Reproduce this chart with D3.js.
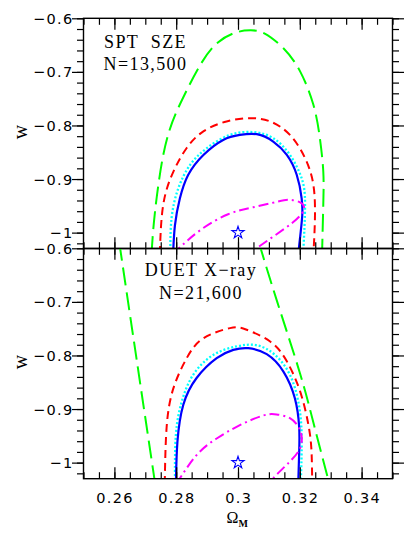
<!DOCTYPE html>
<html><head><meta charset="utf-8">
<script src="https://cdn.jsdelivr.net/npm/d3@7"></script>
<style>body{margin:0;background:#fff}svg{display:block}</style>
</head><body><svg id="c" width="415" height="540"></svg>
<script>
// ---------- data ----------
const xDomain = [0.25, 0.35];
const yDomain = [-1.03, -0.6];
const xMajorTicks = [0.26, 0.28, 0.30, 0.32, 0.34];
const xTickLabels = ["0.26", "0.28", "0.3", "0.32", "0.34"];
const yMajorTicks = [-0.6, -0.7, -0.8, -0.9, -1.0];
const yTickLabels = ["\u22120.6", "\u22120.7", "\u22120.8", "\u22120.9", "\u22121"];
const fiducial = [0.30, -1.0];

const sptTitle = ["SPT  SZE", "N=13,500"];
const duetTitle = ["DUET X\u2212ray", "N=21,600"];

const sptGreen = [[0.2720,-1.04],[0.2728,-0.98],[0.2745,-0.90],[0.2775,-0.815],[0.2825,-0.745],[0.2880,-0.685],[0.2935,-0.645],[0.2996,-0.626],[0.3040,-0.6225],[0.3085,-0.628],[0.3147,-0.656],[0.3201,-0.699],[0.3244,-0.7615],[0.3265,-0.824],[0.3276,-0.886],[0.3276,-0.948],[0.3272,-1.04]];
const sptRed = [[0.2747,-1.04],[0.2758,-0.948],[0.2791,-0.886],[0.2834,-0.842],[0.2888,-0.811],[0.2963,-0.7925],[0.3039,-0.7864],[0.3104,-0.7925],[0.3168,-0.8176],[0.3217,-0.861],[0.3244,-0.911],[0.3249,-0.973],[0.3244,-1.04]];
const sptCyan = [[0.2781,-1.04],[0.2785,-0.973],[0.2807,-0.917],[0.2845,-0.8736],[0.2899,-0.8424],[0.2974,-0.8176],[0.3050,-0.8125],[0.3114,-0.8237],[0.3168,-0.855],[0.3206,-0.8985],[0.3217,-0.948],[0.3211,-1.04]];
const sptBlue = [[0.2790,-1.04],[0.2796,-0.986],[0.2812,-0.936],[0.2839,-0.892],[0.2888,-0.855],[0.2952,-0.827],[0.3006,-0.8176],[0.3061,-0.8163],[0.3114,-0.830],[0.3158,-0.855],[0.3190,-0.892],[0.3206,-0.936],[0.3208,-0.967],[0.3203,-0.998],[0.3195,-1.04]];
const sptMagenta = [[0.2788,-1.039],[0.2807,-1.03],[0.2877,-0.9957],[0.2968,-0.9658],[0.3049,-0.9527],[0.3126,-0.9424],[0.3165,-0.9387],[0.3201,-0.9434],[0.3214,-0.9527],[0.3207,-0.9639],[0.3178,-0.9807],[0.3120,-1.005],[0.3058,-1.03],[0.3039,-1.039]];

const duetGreenLeft = [[0.2616,-0.59],[0.2670,-0.80],[0.2732,-1.04]];
const duetGreenRight = [[0.3068,-0.59],[0.3127,-0.70],[0.3201,-0.834],[0.3246,-0.93],[0.3296,-1.04]];
const duetRed = [[0.2763,-1.04],[0.2769,-0.934],[0.2791,-0.861],[0.2834,-0.805],[0.2888,-0.768],[0.2974,-0.749],[0.3028,-0.752],[0.3104,-0.774],[0.3158,-0.811],[0.3201,-0.867],[0.3228,-0.930],[0.3238,-0.980],[0.3240,-1.04]];
const duetCyan = [[0.2796,-1.04],[0.2799,-0.948],[0.2818,-0.886],[0.2855,-0.836],[0.2920,-0.799],[0.2996,-0.783],[0.3061,-0.781],[0.3120,-0.799],[0.3168,-0.836],[0.3195,-0.886],[0.3206,-0.948],[0.3203,-1.04]];
const duetBlue = [[0.2799,-1.04],[0.2804,-0.961],[0.2823,-0.892],[0.2866,-0.842],[0.2931,-0.805],[0.2985,-0.7895],[0.3033,-0.7864],[0.3093,-0.7976],[0.3147,-0.830],[0.3184,-0.880],[0.3198,-0.934],[0.3198,-0.980],[0.3195,-1.04]];
const duetMagenta = [[0.2800,-1.04],[0.2866,-0.986],[0.2931,-0.955],[0.3006,-0.930],[0.3082,-0.912],[0.3125,-0.910],[0.3168,-0.917],[0.3195,-0.933],[0.3206,-0.951],[0.3201,-0.973],[0.3168,-0.998],[0.3114,-1.029],[0.3105,-1.04]];

// ---------- layout ----------
const L = 83.5, R = 392.5;
const panelTops = [18.3, 248.3];
const PH = 230.4;
const styles = {
  green:   {stroke:"#00ff00", width:2,   dash:"18,7"},
  red:     {stroke:"#ff0000", width:2,   dash:"8,5"},
  cyan:    {stroke:"#00ffff", width:2.3, dash:"2,2"},
  blue:    {stroke:"#0000ff", width:2.2, dash:null},
  magenta: {stroke:"#ff00ff", width:2,   dash:"10,4,2,4"}
};
const panels = [
  {title: sptTitle, tx: 145.5, ty: [48.3, 69.5],
   curves: [["green",sptGreen],["red",sptRed],["cyan",sptCyan],["blue",sptBlue],["magenta",sptMagenta]]},
  {title: duetTitle, tx: 201, ty: [276.3, 299],
   curves: [["green",duetGreenLeft],["green",duetGreenRight],["red",duetRed],["cyan",duetCyan],["blue",duetBlue],["magenta",duetMagenta]]}
];

const svg = d3.select("#c");
svg.append("rect").attr("width",415).attr("height",540).attr("fill","#fff");
const x = d3.scaleLinear().domain(xDomain).range([L, R]);
const xMinor = x.ticks(20);

panels.forEach((p, i) => {
  const top = panelTops[i];
  const y = d3.scaleLinear().domain(yDomain).range([top + PH, top]);
  const yMinor = y.ticks(20);
  const g = svg.append("g");
  const cid = "clip" + i;
  svg.append("defs").append("clipPath").attr("id", cid)
    .append("rect").attr("x", L).attr("y", top).attr("width", R - L).attr("height", PH);

  const line = d3.line().x(d => x(d[0])).y(d => y(d[1])).curve(d3.curveNatural);
  const cg = g.append("g").attr("clip-path", `url(#${cid})`);
  p.curves.forEach(([k, data]) => {
    const s = styles[k];
    cg.append("path").attr("d", line(data)).attr("fill","none")
      .attr("stroke", s.stroke).attr("stroke-width", s.width)
      .attr("stroke-dasharray", s.dash).attr("stroke-linejoin","round");
  });
  // fiducial star
  g.append("path").attr("d", d3.symbol(d3.symbolStar, 46)())
    .attr("transform", `translate(${x(fiducial[0])},${y(fiducial[1])})`)
    .attr("fill","none").attr("stroke","#0000ff").attr("stroke-width",1.1);

  // axes (ticks inward)
  const axes = [
    [d3.axisTop(x), `translate(0,${top})`, xMinor, xMajorTicks],
    [d3.axisBottom(x), `translate(0,${top+PH})`, xMinor, xMajorTicks],
    [d3.axisRight(y), `translate(${L},0)`, yMinor, yMajorTicks],
    [d3.axisLeft(y), `translate(${R},0)`, yMinor, yMajorTicks]
  ];
  axes.forEach(([ax, tr, minor, major]) => {
    g.append("g").attr("transform", tr)
      .call(ax.tickValues(minor).tickSize(-6.5).tickFormat("").tickSizeOuter(0))
      .call(s => s.select(".domain").remove());
    g.append("g").attr("transform", tr)
      .call(ax.tickValues(major).tickSize(-11.5).tickFormat("").tickSizeOuter(0))
      .call(s => s.select(".domain").remove());
  });
  g.selectAll(".tick line").attr("stroke","#000").attr("stroke-width",1.2);

  // frame
  g.append("rect").attr("x", L).attr("y", top).attr("width", R - L).attr("height", PH)
    .attr("fill","none").attr("stroke","#000").attr("stroke-width",1.4);

  // y tick labels
  g.selectAll(".ylab").data(yMajorTicks).enter().append("text")
    .attr("x", 73.5).attr("y", d => y(d) + 5.5)
    .attr("text-anchor","end")
    .style("font-family","DejaVu Sans").style("font-size","14.5px").style("letter-spacing","1.3px")
    .text((d, j) => yTickLabels[j]);

  // y label
  g.append("text").attr("transform", `translate(26.5,${top + PH/2 - 1.5}) rotate(-90)`)
    .attr("text-anchor","middle")
    .style("font-family","Liberation Serif").style("font-size","20px")
    .text("w");

  // title
  p.title.forEach((t, j) => {
    g.append("text").attr("x", p.tx).attr("y", p.ty[j]).attr("text-anchor","middle")
      .style("font-family","Liberation Serif").style("font-size","18px").style("letter-spacing","1.4px")
      .style("white-space","pre")
      .text(t);
  });
});

// x tick labels
svg.selectAll(".xlab").data(xMajorTicks).enter().append("text")
  .attr("x", d => x(d) + 0.7).attr("y", 503)
  .attr("text-anchor","middle")
  .style("font-family","DejaVu Sans").style("font-size","14.5px").style("letter-spacing","1.3px")
  .text((d, j) => xTickLabels[j]);

// x label
const xl = svg.append("text").attr("x", 226.5).attr("y", 523)
  .style("font-family","Liberation Serif").style("font-size","16px");
xl.append("tspan").text("\u03A9");
xl.append("tspan").attr("dy", 4).style("font-size","10px").style("font-weight","bold").text("M");
</script>
</body></html>
